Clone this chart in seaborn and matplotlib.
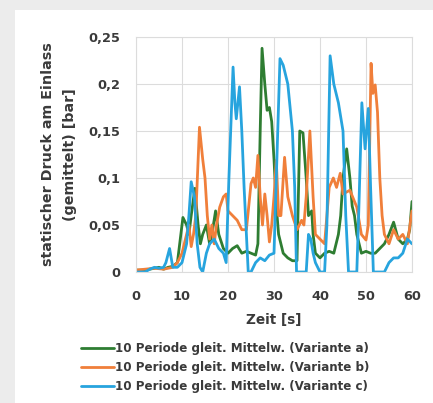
import pandas as pd
import numpy as np
import matplotlib
matplotlib.use("Agg")
import matplotlib.pyplot as plt
import seaborn as sns
from matplotlib.patches import Rectangle

# Zeit [s] und gemittelter statischer Druck [bar]
t_a = [0, 2, 4, 5, 6, 7, 8, 9, 9.5, 10.2, 11, 11.5, 12, 12.8, 13.5, 14, 14.5, 15.3, 16, 16.5,
       17.3, 18, 19, 20, 21, 22, 23, 24, 25, 26, 26.5, 27, 27.4, 28, 28.5, 29, 29.5, 30, 30.5, 31,
       32, 33, 34, 35, 35.6, 36.3, 37, 37.5, 38.2, 38.5, 39, 40, 41, 42, 43, 44, 44.5, 45, 45.8, 46.5,
       47, 47.5, 48, 49, 50, 51, 52, 53, 54, 55, 56, 57, 58, 59, 59.5, 60]
p_a = [0.002, 0.002, 0.004, 0.005, 0.003, 0.005, 0.006, 0.01, 0.03, 0.058, 0.05, 0.04, 0.06, 0.089,
       0.05, 0.03, 0.04, 0.05, 0.03, 0.04, 0.065, 0.04, 0.025, 0.02, 0.025, 0.028, 0.02, 0.022, 0.02,
       0.018, 0.03, 0.15, 0.238, 0.2, 0.172, 0.175, 0.16, 0.12, 0.07, 0.04, 0.02, 0.015, 0.012, 0.012,
       0.15, 0.148, 0.1, 0.06, 0.065, 0.04, 0.02, 0.015, 0.02, 0.022, 0.02, 0.04, 0.06, 0.1, 0.131,
       0.1, 0.07, 0.06, 0.04, 0.02, 0.022, 0.02, 0.02, 0.025, 0.03, 0.04, 0.053, 0.035, 0.03, 0.035,
       0.045, 0.075]

t_b = [0, 2, 4, 6, 7, 8, 9, 10, 11, 11.5, 12, 12.5, 13, 13.8, 14.5, 15, 15.5, 16, 16.5, 17, 17.5,
       18.2, 19, 19.6, 20, 21, 22, 23, 24, 25, 25.5, 26, 26.5, 27, 27.5, 28, 28.5, 29, 29.5, 30, 30.5,
       31, 31.5, 32.3, 33, 34, 35, 35.5, 36, 36.5, 37, 37.8, 38.5, 39, 40, 41, 42, 42.9, 43.6, 44.4,
       45, 46.5, 48, 49, 50, 50.5, 51.1, 51.5, 52, 52.5, 53, 53.5, 54, 55, 56, 57, 58, 59, 60]
p_b = [0.002, 0.003, 0.004, 0.003, 0.004, 0.005, 0.01, 0.02, 0.04, 0.05, 0.027, 0.04, 0.06, 0.154,
       0.12, 0.1, 0.06, 0.035, 0.05, 0.03, 0.05, 0.069, 0.08, 0.083, 0.065, 0.06, 0.055, 0.045, 0.045,
       0.094, 0.1, 0.09, 0.124, 0.08, 0.05, 0.083, 0.06, 0.032, 0.05, 0.08, 0.119, 0.06, 0.06, 0.122,
       0.08, 0.06, 0.045, 0.05, 0.055, 0.05, 0.08, 0.15, 0.08, 0.04, 0.035, 0.03, 0.09, 0.1, 0.09,
       0.105, 0.083, 0.087, 0.069, 0.04, 0.034, 0.05, 0.222, 0.19, 0.199, 0.17, 0.1, 0.06, 0.04, 0.03,
       0.045, 0.035, 0.04, 0.03, 0.065]

t_c = [0, 2, 3, 4, 5, 6, 6.5, 7.3, 8, 9, 10, 11, 11.5, 12, 12.7, 13.3, 13.9, 14.5, 15.3, 16, 17, 18,
       19, 19.6, 20.2, 21.1, 21.5, 21.8, 22.5, 23, 23.5, 24, 24.4, 25, 26, 27, 28, 29, 30, 30.5, 31.3,
       32, 33, 34, 34.5, 34.9, 36, 37, 37.5, 38, 38.5, 39, 39.5, 40, 41, 41.5, 42.2, 43, 44, 45, 45.6,
       46.2, 47, 48, 48.4, 49.1, 49.8, 50.5, 51, 51.6, 53, 54, 55, 56, 57, 58, 59, 60]
p_c = [0, 0, 0.003, 0.005, 0.004, 0.005, 0.01, 0.025, 0.005, 0.005, 0.01, 0.03, 0.06, 0.096, 0.08,
       0.03, 0.005, 0.0, 0.02, 0.03, 0.035, 0.025, 0.02, 0.01, 0.1, 0.218, 0.18, 0.163, 0.197, 0.15,
       0.09, 0.04, 0, 0, 0.01, 0.015, 0.012, 0.018, 0.02, 0.1, 0.227, 0.22, 0.2, 0.15, 0.09, 0, 0, 0,
       0.04, 0.035, 0.02, 0.01, 0.005, 0, 0, 0.05, 0.23, 0.2, 0.18, 0.15, 0.06, 0, 0, 0, 0.06, 0.18,
       0.131, 0.174, 0.09, 0, 0, 0, 0.01, 0.015, 0.015, 0.02, 0.035, 0.03]

labels = [
    "10 Periode gleit. Mittelw. (Variante a)",
    "10 Periode gleit. Mittelw. (Variante b)",
    "10 Periode gleit. Mittelw. (Variante c)",
]
x_ticks = [0, 10, 20, 30, 40, 50, 60]
y_ticks = [0, 0.05, 0.1, 0.15, 0.2, 0.25]
y_ticklabels = ["0", "0,05", "0,1", "0,15", "0,2", "0,25"]

colors = {labels[0]: "#2e7d32", labels[1]: "#f07f3a", labels[2]: "#27a4de"}

df = pd.concat([
    pd.DataFrame({"Zeit": t_a, "Druck": p_a, "Reihe": labels[0]}),
    pd.DataFrame({"Zeit": t_b, "Druck": p_b, "Reihe": labels[1]}),
    pd.DataFrame({"Zeit": t_c, "Druck": p_c, "Reihe": labels[2]}),
])

sns.set_style("white")
plt.rcParams["font.family"] = ["DejaVu Sans"]
text_color = "#3a3a3a"

fig = plt.figure(figsize=(4.33, 4.03), dpi=100)
fig.patch.set_facecolor("#ececec")
# weisse Karte hinter dem Diagramm
fig.patches.append(Rectangle((15 / 433, 0), 1, 1 - 10 / 403, transform=fig.transFigure,
                             facecolor="white", edgecolor="none", zorder=-10))

ax = fig.add_axes([136 / 433, 1 - 272 / 403, 276 / 433, 235 / 403])
ax.set_facecolor("white")

sns.lineplot(data=df, x="Zeit", y="Druck", hue="Reihe", hue_order=labels,
             palette=colors, linewidth=2, sort=False, ax=ax, legend=True)

ax.set_xlim(0, 60)
ax.set_ylim(0, 0.25)
ax.set_xticks(x_ticks)
ax.set_yticks(y_ticks)
ax.set_yticklabels(y_ticklabels)
ax.grid(True, color="#dcdcdc", linewidth=0.8)
for s in ax.spines.values():
    s.set_color("#dcdcdc")
    s.set_linewidth(0.8)
ax.tick_params(axis="y", length=0, labelsize=9.3, labelcolor=text_color, pad=11)
ax.tick_params(axis="x", length=0, labelsize=9.3, labelcolor=text_color, pad=13)
for lbl in ax.get_xticklabels() + ax.get_yticklabels():
    lbl.set_fontweight("bold")

ax.set_xlabel("Zeit [s]", fontsize=9.8, fontweight="bold", color=text_color)
ax.set_ylabel("statischer Druck am Einlass\n(gemittelt) [bar]", fontsize=10.3,
              fontweight="bold", color=text_color, linespacing=1.7)
ax.xaxis.set_label_coords(0.5, -0.175)
ax.yaxis.set_label_coords(-0.215, 0.5)

handles, lbls = ax.get_legend_handles_labels()
ax.legend().remove()
fig.legend(handles, lbls, loc="center", bbox_to_anchor=(0.52, 0.087), frameon=False,
           handlelength=2.8, handletextpad=0.1, labelspacing=0.5,
           borderpad=0, prop={"weight": "bold", "size": 8.6})
for txt in fig.legends[0].get_texts():
    txt.set_color(text_color)

fig.savefig("out.png", dpi=100, facecolor=fig.get_facecolor())
